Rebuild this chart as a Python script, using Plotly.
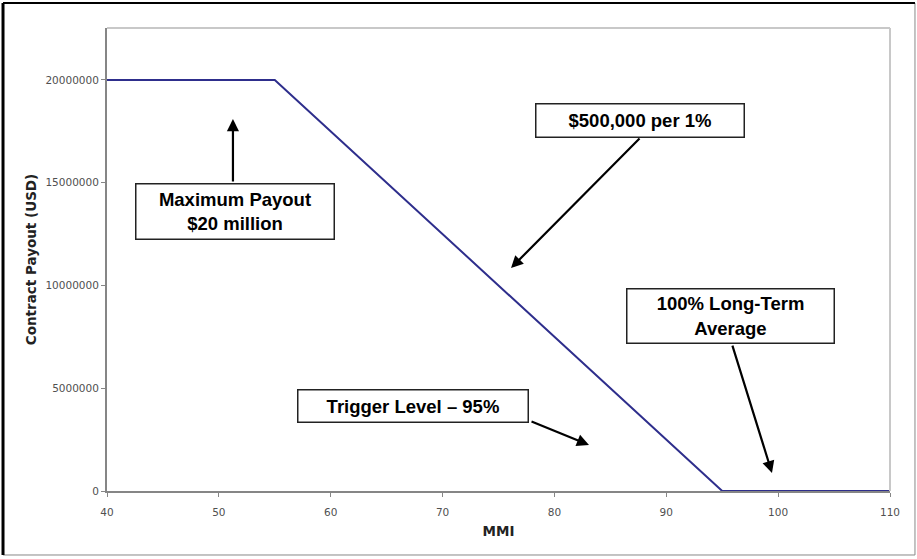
import plotly.graph_objects as go

# Data
mmi = [40, 55, 95, 110]
payout = [20000000, 20000000, 0, 0]
x_ticks = [40, 50, 60, 70, 80, 90, 100, 110]
y_ticks = [0, 5000000, 10000000, 15000000, 20000000]

# Annotation content: (text, center x, center y, width px, height px)
boxes = [
    ("Maximum Payout<br>$20 million", 51.44, 13.60e6, 200, 57),
    ("$500,000 per 1%", 87.65, 18.03e6, 210, 35),
    ("100% Long-Term<br>Average", 95.74, 8.52e6, 209, 56),
    ("Trigger Level \u2013 95%", 67.36, 4.16e6, 232, 34),
]
# arrows: (tail x, tail y, tip x, tip y)
arrows = [
    (51.26, 14.99e6, 51.26, 18.10e6),
    (87.74, 17.23e6, 76.12, 10.85e6),
    (95.87, 7.15e6, 99.45, 0.876e6),
    (77.82, 3.41e6, 83.09, 2.24e6),
]

fig = go.Figure()
fig.add_trace(go.Scatter(
    x=mmi, y=payout, mode="lines",
    line=dict(color="#2E2E8C", width=2),
    showlegend=False, hoverinfo="skip",
))

annotations = []
for tx, ty, hx, hy in arrows:
    annotations.append(dict(
        x=hx, y=hy, ax=tx, ay=ty, xref="x", yref="y", axref="x", ayref="y",
        text="", showarrow=True, arrowhead=2, arrowsize=1.1, arrowwidth=2.2,
        arrowcolor="black",
    ))
for text, cx, cy, w, h in boxes:
    annotations.append(dict(
        x=cx, y=cy, xref="x", yref="y", text=text, showarrow=False,
        xanchor="center", yanchor="middle",
        width=w - 3, height=h - 3, borderpad=0,
        bgcolor="white", bordercolor="#222", borderwidth=1.5,
        font=dict(family="Liberation Sans, Arial", size=18.5, color="black", weight="bold"),
        align="center", valign="middle",
    ))

shapes = [
    # outer frame
    dict(type="rect", xref="paper", yref="paper", x0=-0.1328, x1=1.0319, y0=-0.1382, y1=1.054,
         line=dict(color="#888", width=1), layer="above"),
    dict(type="line", xref="paper", yref="paper", x0=-0.1328, x1=-0.1328, y0=-0.1382, y1=1.054,
         line=dict(color="black", width=3)),
    dict(type="line", xref="paper", yref="paper", x0=-0.1328, x1=1.0319, y0=1.054, y1=1.054,
         line=dict(color="black", width=2)),
    # plot area light border top/right
    dict(type="line", xref="paper", yref="paper", x0=0, x1=1, y0=1, y1=1,
         line=dict(color="#C8C8C8", width=2)),
    dict(type="line", xref="paper", yref="paper", x0=1, x1=1, y0=0, y1=1,
         line=dict(color="#C8C8C8", width=2)),
]

tick_font = dict(family="DejaVu Sans, Verdana", size=10.5, color="#505050")
title_font = dict(family="DejaVu Sans, Verdana", size=13.5, color="#222", weight="bold")

fig.update_layout(
    width=917, height=559,
    margin=dict(l=107, r=27, t=28, b=68),
    paper_bgcolor="white", plot_bgcolor="white",
    annotations=annotations, shapes=shapes,
    xaxis=dict(
        range=[40, 110], tickvals=x_ticks, ticktext=[str(v) for v in x_ticks],
        showgrid=False, zeroline=False, showline=True, linecolor="#868686", linewidth=2,
        ticks="outside", ticklen=4, tickcolor="#868686", tickfont=tick_font,
        ticklabelstandoff=6,
        title=dict(text="MMI", font=title_font, standoff=10),
    ),
    yaxis=dict(
        range=[0, 22.53e6], tickvals=y_ticks, ticktext=[str(v) for v in y_ticks],
        showgrid=False, zeroline=False, showline=True, linecolor="#868686", linewidth=2,
        ticks="outside", ticklen=4, tickcolor="#868686", tickfont=tick_font,
        title=dict(text="Contract Payout (USD)", font=title_font, standoff=6),
    ),
)

fig.write_html("out.html")
